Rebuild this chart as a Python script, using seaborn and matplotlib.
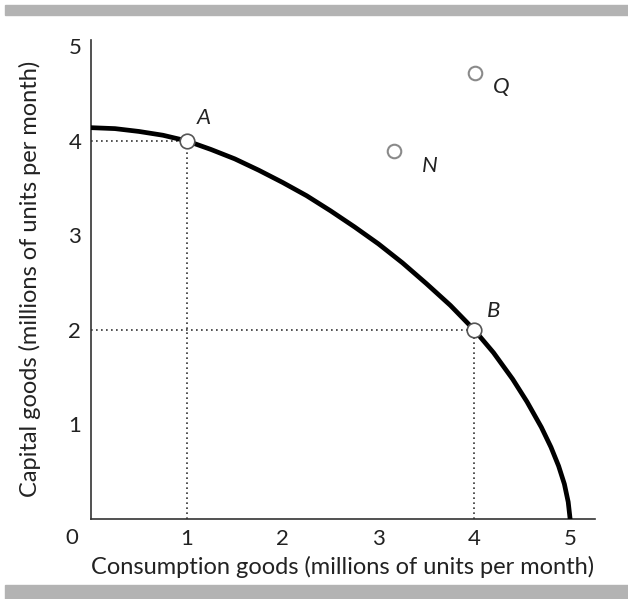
import matplotlib
matplotlib.use("Agg")
import pandas as pd
import seaborn as sns
import matplotlib.pyplot as plt

# Produktionsmöglichkeitenkurve
konsum = [0, 0.25, 0.5, 0.75, 1.0, 1.25, 1.5, 1.75, 2.0, 2.25, 2.5, 2.75, 3.0, 3.25,
          3.5, 3.75, 4.0, 4.2, 4.4, 4.55, 4.7, 4.8, 4.88, 4.94, 4.98, 5.0]
kapital = [4.14, 4.13, 4.1, 4.06, 4.0, 3.91, 3.81, 3.69, 3.56, 3.42, 3.26, 3.09, 2.91, 2.71,
           2.49, 2.26, 2.0, 1.76, 1.48, 1.24, 0.97, 0.76, 0.56, 0.37, 0.18, 0.0]

# Punkte auf der Kurve
punkte_kurve = ["A", "B"]
punkte_kurve_x = [1, 4]
punkte_kurve_y = [4, 2]

# Punkte außerhalb
punkte_aussen = ["N", "Q"]
punkte_aussen_x = [3.16, 4.01]
punkte_aussen_y = [3.89, 4.72]

ticks = [1, 2, 3, 4, 5]

sns.set_style("white")
plt.rcParams["font.family"] = ["Lato", "DejaVu Sans"]

fig = plt.figure(figsize=(6.28, 5.99), dpi=100)
ax = fig.add_axes([0.145, 0.1336, 0.8025, 0.80])

kurve_df = pd.DataFrame({"x": konsum, "y": kapital})
sns.lineplot(data=kurve_df, x="x", y="y", sort=False, estimator=None,
             color="black", linewidth=3.4, ax=ax, zorder=3)

# gepunktete Hilfslinien
for px, py in zip(punkte_kurve_x, punkte_kurve_y):
    ax.plot([0, px], [py, py], linestyle=(0, (1, 2)), color="#333333", lw=1.2, zorder=2)
    ax.plot([px, px], [0, py], linestyle=(0, (1, 2)), color="#333333", lw=1.2, zorder=2)

sns.scatterplot(x=punkte_kurve_x, y=punkte_kurve_y, s=110, color="white",
                edgecolor="#555555", linewidth=1.2, ax=ax, zorder=4)
sns.scatterplot(x=punkte_aussen_x, y=punkte_aussen_y, s=95, color="white",
                edgecolor="#8a8a8a", linewidth=1.5, ax=ax, zorder=4)

# Beschriftungen der Punkte
label_offsets = {"A": (0.18, 0.24), "B": (0.2, 0.2), "N": (0.38, -0.16), "Q": (0.27, -0.15)}
for name, px, py in zip(punkte_kurve + punkte_aussen,
                        punkte_kurve_x + punkte_aussen_x,
                        punkte_kurve_y + punkte_aussen_y):
    dx, dy = label_offsets[name]
    ax.text(px + dx, py + dy, name, fontsize=16, style="italic",
            ha="center", va="center", color="#222222")

ax.set_xlim(0, 5.26)
ax.set_ylim(0, 5.07)
ax.set_xticks(ticks)
ax.set_yticks(ticks)
ax.set_xticklabels([str(t) for t in ticks], fontsize=16, color="#222222")
ax.set_yticklabels([str(t) for t in ticks], fontsize=16, color="#222222")
ax.tick_params(direction="in", length=6, width=1.1, color="#333333", pad=7)
ax.text(-0.2, -0.2, "0", fontsize=16, ha="center", va="center", color="#222222")

sns.despine(ax=ax)
for s in ["left", "bottom"]:
    ax.spines[s].set_color("#333333")
    ax.spines[s].set_linewidth(1.2)

ax.set_xlabel("Consumption goods (millions of units per month)", fontsize=17, color="#222222", labelpad=5)
ax.set_ylabel("Capital goods (millions of units per month)", fontsize=17, color="#222222", labelpad=20)

# graue Balken oben und unten
fig.patches.append(plt.Rectangle((0.008, 0.975), 0.992, 0.016, transform=fig.transFigure,
                                 color="#b3b3b3", zorder=0))
fig.patches.append(plt.Rectangle((0.008, 0.0), 0.992, 0.023, transform=fig.transFigure,
                                 color="#b3b3b3", zorder=0))

fig.savefig("out.png", dpi=100)
